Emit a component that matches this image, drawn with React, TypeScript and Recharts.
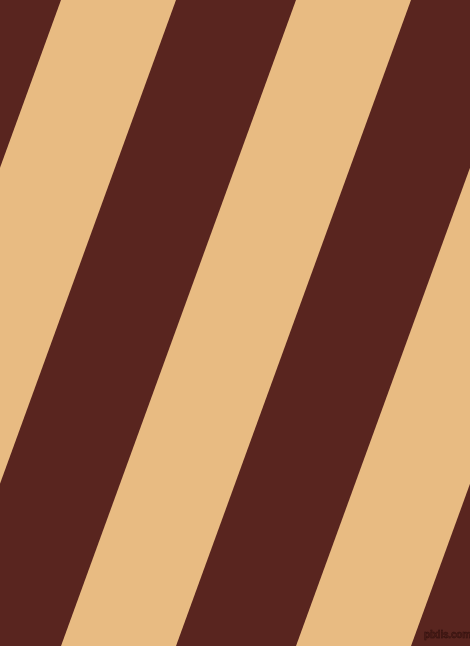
import React from "react"
import { ComposedChart, Area, XAxis, YAxis } from "recharts"

// rows at the top and bottom edge of the picture
const edgeY = [0, 646]

// light stripes: [left, right] crossing at the top edge, then at the bottom edge
const stripeA = [[61, 176], [-174, -59]]
const stripeB = [[296, 411], [61, 176]]
const stripeC = [[531, 646], [296, 411]]

const dark = "#59251f"
const tan = "#e8bb82"

export default function App() {
  const data = edgeY.map((y, i) => ({ y, a: stripeA[i], b: stripeB[i], c: stripeC[i] }))

  return (
    <div style={{ position: "fixed", left: 0, top: 0, width: 470, height: 646, background: dark }}>
      <ComposedChart
        width={470}
        height={646}
        data={data}
        layout="vertical"
        margin={{ top: 0, right: 0, bottom: 0, left: 0 }}
      >
        <XAxis type="number" domain={[0, 470]} allowDataOverflow hide />
        <YAxis type="number" dataKey="y" domain={[0, 646]} allowDataOverflow hide />
        {["a", "b", "c"].map((k) => (
          <Area
            key={k}
            type="linear"
            dataKey={k}
            fill={tan}
            fillOpacity={1}
            stroke="none"
            dot={false}
            activeDot={false}
            isAnimationActive={false}
          />
        ))}
      </ComposedChart>
      <div
        style={{
          position: "absolute",
          left: 424,
          top: 629,
          fontFamily: "'Liberation Sans Narrow', 'Liberation Sans', sans-serif",
          fontSize: 10,
          fontWeight: "bold",
          color: "#4a1d18",
          WebkitTextStroke: "0.4px #2e0f0c",
          letterSpacing: -0.2,
          lineHeight: "12px",
        }}
      >
        pixlis.com
      </div>
    </div>
  )
}
